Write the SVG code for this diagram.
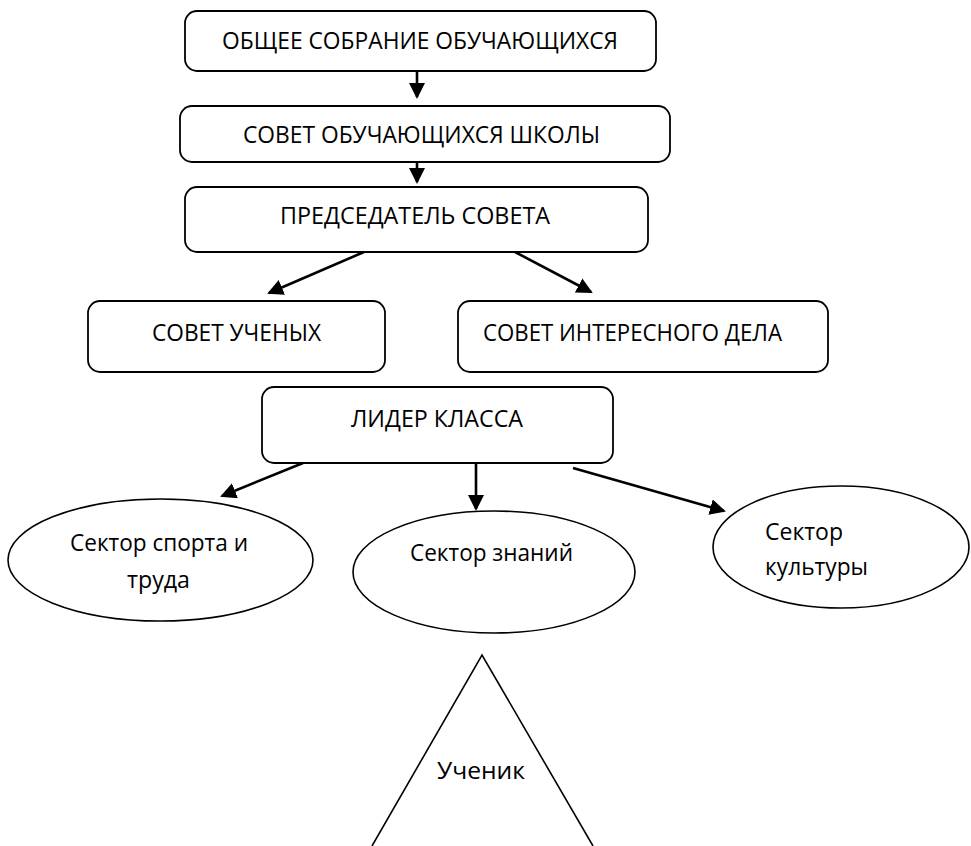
<svg xmlns="http://www.w3.org/2000/svg" width="971" height="846" viewBox="0 0 971 846">
<style>
.box{fill:#fff;stroke:#000;stroke-width:1.8}
.ell{fill:#fff;stroke:#000;stroke-width:1.6}
.t{font-family:"Open Sans","Noto Sans","Liberation Sans",sans-serif;font-size:23px;fill:#000}
.c{fill:none;stroke:#000;stroke-width:2.6;marker-end:url(#ah)}
</style>
<defs>
<marker id="ah" markerUnits="userSpaceOnUse" markerWidth="18" markerHeight="18" refX="14" refY="8" orient="auto">
<path d="M0,0 L16,8 L0,16 z" fill="#000"/>
</marker>
</defs>
<rect width="971" height="846" fill="#fff"/>
<g id="n1"><rect class="box" x="185" y="11" width="471" height="60" rx="12"/>
<text class="t" x="222" y="49" textLength="396" lengthAdjust="spacingAndGlyphs">ОБЩЕЕ СОБРАНИЕ ОБУЧАЮЩИХСЯ</text></g>
<g id="n2"><rect class="box" x="180" y="106" width="490" height="56" rx="12"/>
<text class="t" x="243" y="143" textLength="357" lengthAdjust="spacingAndGlyphs">СОВЕТ ОБУЧАЮЩИХСЯ ШКОЛЫ</text></g>
<g id="n3"><rect class="box" x="185" y="187" width="463" height="65" rx="12"/>
<text class="t" x="280" y="224" textLength="270" lengthAdjust="spacingAndGlyphs">ПРЕДСЕДАТЕЛЬ СОВЕТА</text></g>
<g id="n4"><rect class="box" x="88" y="301" width="297" height="71" rx="12"/>
<text class="t" x="152" y="341" textLength="169" lengthAdjust="spacingAndGlyphs">СОВЕТ УЧЕНЫХ</text></g>
<g id="n5"><rect class="box" x="458" y="301" width="370" height="71" rx="12"/>
<text class="t" x="483" y="341" textLength="299" lengthAdjust="spacingAndGlyphs">СОВЕТ ИНТЕРЕСНОГО ДЕЛА</text></g>
<g id="n6"><rect class="box" x="262" y="387" width="351" height="76" rx="12"/>
<text class="t" x="351" y="427" textLength="172" lengthAdjust="spacingAndGlyphs">ЛИДЕР КЛАССА</text></g>
<g id="n7"><ellipse class="ell" cx="160.5" cy="560" rx="152.5" ry="61"/>
<text class="t" x="70" y="551" textLength="178" lengthAdjust="spacingAndGlyphs">Сектор спорта и</text>
<text class="t" x="127" y="588" textLength="63" lengthAdjust="spacingAndGlyphs">труда</text></g>
<g id="n8"><ellipse class="ell" cx="494" cy="572" rx="141" ry="61"/>
<text class="t" x="410" y="561" textLength="163" lengthAdjust="spacingAndGlyphs">Сектор знаний</text></g>
<g id="n9"><ellipse class="ell" cx="841" cy="547" rx="128" ry="61"/>
<text class="t" x="765" y="540" textLength="78" lengthAdjust="spacingAndGlyphs">Сектор</text>
<text class="t" x="765" y="575" textLength="103" lengthAdjust="spacingAndGlyphs">культуры</text></g>
<g id="n10"><path d="M372,846 L482,655 L593,846" fill="none" stroke="#000" stroke-width="1.6"/>
<text class="t" x="437" y="779" textLength="88" lengthAdjust="spacingAndGlyphs">Ученик</text></g>
<g id="connectors">
<path class="c" d="M417,71 L417,97"/>
<path class="c" d="M417,162 L417,182"/>
<path class="c" d="M364,252 L269,293"/>
<path class="c" d="M515,252 L591,292"/>
<path class="c" d="M303,463 L222,496"/>
<path class="c" d="M476,463 L476,509"/>
<path class="c" d="M573,468 L724,511"/>
</g>
</svg>
